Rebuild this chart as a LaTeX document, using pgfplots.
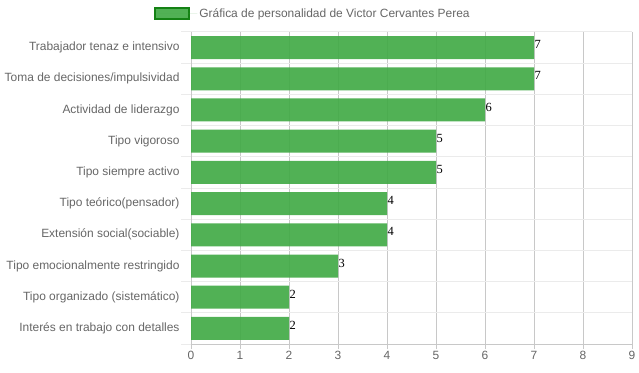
\documentclass[border=0pt]{standalone}
\usepackage{pgfplots}
\pgfplotsset{compat=1.18}
\usepackage{fontspec}
\setmainfont{Liberation Sans}
\newfontfamily\serifnum{Liberation Serif}
\definecolor{txt}{HTML}{666666}
\definecolor{barfill}{RGB}{66,170,70}
\definecolor{barborder}{RGB}{20,130,20}
\definecolor{vgrid}{HTML}{C8C8C8}
\definecolor{hgrid}{HTML}{EBEBEB}
\begin{document}
\begin{tikzpicture}[x=1bp,y=1bp]
\useasboundingbox (0,0) rectangle (639,372);
\begin{axis}[
  at={(191bp,28bp)}, anchor=south west,
  scale only axis, width=441bp, height=312bp,
  xmin=0, xmax=9, ymin=-0.5, ymax=9.5,
  xtick={0,...,9}, ytick={0,...,9},
  minor ytick={-0.5,0.5,...,9.5},
  yticklabels={Interés en trabajo con detalles, Tipo organizado (sistemático), Tipo emocionalmente restringido, Extensión social(sociable), Tipo teórico(pensador), Tipo siempre activo, Tipo vigoroso, Actividad de liderazgo, Toma de decisiones/impulsividad, Trabajador tenaz e intensivo},
  /pgf/number format/assume math mode=true,
  axis x line*=bottom, axis y line*=left,
  axis line style={vgrid, line width=1bp, -},
  xmajorgrids, yminorgrids,
  major grid style={vgrid, line width=1bp},
  minor grid style={hgrid, line width=1bp},
  tick align=outside,
  major tick length=5bp, minor tick length=10bp,
  xtick style={vgrid, line width=1bp},
  every major y tick/.style={draw=none},
  every minor y tick/.style={hgrid, line width=1bp},
  ticklabel style={font=\fontsize{12}{14}\selectfont, text=txt},
  yticklabel style={xshift=-3bp},
  xticklabel style={yshift=1bp},
  xbar, bar width=23bp,
  nodes near coords,
  nodes near coords style={font=\serifnum\fontsize{12.5}{14}\selectfont, text=black, anchor=west, inner sep=0.5bp, yshift=3bp, text opacity=1},
  legend style={at={(0.2766,1.0577)}, anchor=center, draw=none, fill=none,
    font=\fontsize{12}{14}\selectfont, text=txt, legend cell align=left},
  legend image code/.code={\draw[fill=barfill, draw=barborder, line width=2bp] (-3bp,-5.5bp) rectangle (31bp,5.5bp); \path (0bp,0bp) -- (39bp,0bp);},
]
\addplot[fill=barfill, draw=none, fill opacity=0.92] coordinates {
(2,0) (2,1) (3,2) (4,3) (4,4) (5,5) (5,6) (6,7) (7,8) (7,9)};
\addlegendentry{Gráfica de personalidad de Victor Cervantes Perea}
\end{axis}
\end{tikzpicture}
\end{document}
